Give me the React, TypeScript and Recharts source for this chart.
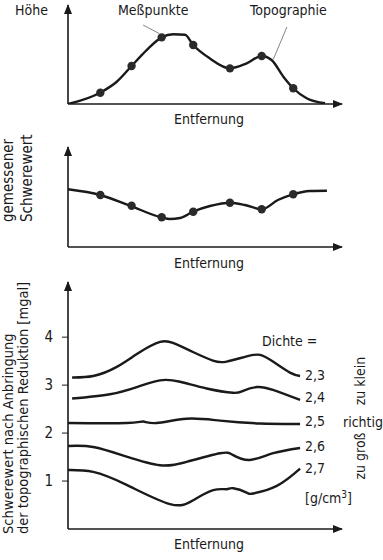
import { ComposedChart, Line, Scatter, XAxis, YAxis, ReferenceDot, ReferenceLine } from 'recharts'

// shared x positions of the measuring stations (0..100 along the profile)
const stationX = [11.8, 23.2, 34.2, 45.7, 59.1, 70.7, 82.2]

// panel 1: topography
const topoX = [0, 11.7, 17.8, 23.2, 28.7, 34.2, 38.4, 42.7, 45.7, 51.8, 59.1, 65.2, 70.7, 74.3, 78.6, 82.2, 87.1, 93.8]
const topoY = [0, 1.14, 2.25, 3.84, 5.45, 6.73, 7.04, 7.0, 5.96, 4.6, 3.6, 4.1, 4.85, 4.44, 2.76, 1.59, 0.58, 0.07]
const topoPts = [1.14, 3.84, 6.73, 5.96, 3.6, 4.85, 1.59]

// panel 2: measured gravity
const gravX = [0, 11.8, 22.6, 34, 37.2, 40.9, 45.6, 51.8, 59.5, 64.6, 70.8, 76.6, 82.1, 88.3, 94.5]
const gravY = [5.77, 5.2, 4.13, 2.97, 2.8, 2.9, 3.53, 4.1, 4.43, 4.2, 3.77, 4.7, 5.27, 5.6, 5.63]
const gravPts = [5.2, 4.13, 2.97, 3.53, 4.43, 3.77, 5.27]

// panel 3: reduced gravity for several densities [mgal]
const d23X = [1.5, 9.2, 17.8, 26.3, 33.6, 38.3, 45.6, 52.9, 57.9, 65.2, 70.1, 74.8, 81, 84.7]
const d23Y = [3.16, 3.19, 3.38, 3.69, 3.9, 3.88, 3.69, 3.51, 3.49, 3.6, 3.63, 3.49, 3.26, 3.19]
const d24X = [1.5, 15.3, 25.1, 33.6, 40.9, 50.6, 60.2, 63.9, 68.9, 74.8, 84.7]
const d24Y = [2.72, 2.81, 2.96, 3.1, 3.07, 2.93, 2.84, 2.88, 2.96, 2.9, 2.69]
const d25X = [0, 21.4, 27.5, 32.4, 43.3, 55.5, 70.1, 84.7]
const d25Y = [2.21, 2.21, 2.24, 2.21, 2.3, 2.26, 2.2, 2.19]
const d26X = [0, 9.2, 21.4, 33.6, 43.3, 55.5, 60.3, 66.4, 74.9, 84.7]
const d26Y = [1.73, 1.71, 1.51, 1.33, 1.4, 1.58, 1.54, 1.44, 1.58, 1.69]
const d27X = [0, 9.2, 21.4, 37.2, 45.7, 53, 57.9, 60.3, 65.2, 67.6, 76.2, 84.7]
const d27Y = [1.23, 1.19, 0.92, 0.52, 0.6, 0.81, 0.83, 0.85, 0.76, 0.74, 0.9, 1.26]
const densityLabels = ['2,3', '2,4', '2,5', '2,6', '2,7']
const yTicks = [1, 2, 3, 4]

const zip = (xs: number[], ys: number[]) => xs.map((x, i) => ({ x, y: ys[i] }))

const FONT = "'Liberation Sans Narrow', 'DejaVu Sans Condensed', Roboto, sans-serif"
const INK = '#1a1a1a'
const txt = { fontFamily: FONT, fontSize: 14, fill: INK }
const ylab = { fontFamily: FONT, fontSize: 15, fill: INK }
const ylab3 = { fontFamily: FONT, fontSize: 14.5, fill: INK }

const ArrowRight = (p: any) => (
  <polygon points={`${p.cx + 1},${p.cy} ${p.cx - 9},${p.cy - 4} ${p.cx - 9},${p.cy + 4}`} fill={INK} />
)
const ArrowUp = (p: any) => (
  <polygon points={`${p.cx},${p.cy - 1} ${p.cx - 4},${p.cy + 9} ${p.cx + 4},${p.cy + 9}`} fill={INK} />
)
const Dot = (p: any) => <circle cx={p.cx} cy={p.cy} r={4.2} fill="#2a2a2a" />

const axisLine = { stroke: INK, strokeWidth: 1.6 }
const curve = { stroke: INK, strokeWidth: 2.4, dot: false, type: 'monotone' as const, isAnimationActive: false }

export default function App() {
  const pts1 = zip(stationX, topoPts)
  const pts2 = zip(stationX, gravPts)
  const lines3 = [zip(d23X, d23Y), zip(d24X, d24Y), zip(d25X, d25Y), zip(d26X, d26Y), zip(d27X, d27Y)]
  const labelY = [110, 132, 156, 181, 203]

  return (
    <div style={{ position: 'absolute', left: 0, top: 0, width: 383, height: 560, background: '#fff' }}>
      {/* panel 1 */}
      <div style={{ position: 'absolute', left: 0, top: 0 }}>
        <ComposedChart width={383} height={132} margin={{ top: 5, right: 41, left: 0, bottom: 0 }}>
          <XAxis type="number" dataKey="x" domain={[0, 100]} tick={false} tickLine={false} axisLine={axisLine} height={28} allowDataOverflow />
          <YAxis type="number" dataKey="y" domain={[0, 10]} tick={false} tickLine={false} axisLine={axisLine} width={68} allowDataOverflow />
          <ReferenceLine segment={[{ x: 27.4, y: 7.98 }, { x: 33.4, y: 7.1 }]} stroke="#666" strokeWidth={0.8} ifOverflow="visible" />
          <ReferenceLine segment={[{ x: 79.9, y: 7.78 }, { x: 74.9, y: 4.5 }]} stroke="#666" strokeWidth={0.8} ifOverflow="visible" />
          <Line data={zip(topoX, topoY)} dataKey="y" {...curve} />
          <Scatter data={pts1} dataKey="y" shape={Dot} isAnimationActive={false} />
          <ReferenceDot x={100} y={0} ifOverflow="visible" shape={ArrowRight} />
          <ReferenceDot x={0} y={10} ifOverflow="visible" shape={ArrowUp} />
          <text x={15} y={15} {...txt}>Höhe</text>
          <text x={118} y={15} {...txt}>Meßpunkte</text>
          <text x={250} y={15} {...txt}>Topographie</text>
          <text x={209} y={124} textAnchor="middle" {...txt}>Entfernung</text>
        </ComposedChart>
      </div>

      {/* panel 2 */}
      <div style={{ position: 'absolute', left: 0, top: 132 }}>
        <ComposedChart width={383} height={143} margin={{ top: 15, right: 41, left: 0, bottom: 0 }}>
          <XAxis type="number" dataKey="x" domain={[0, 100]} tick={false} tickLine={false} axisLine={axisLine} height={28} allowDataOverflow />
          <YAxis type="number" dataKey="y" domain={[0, 10]} tick={false} tickLine={false} axisLine={axisLine} width={68} allowDataOverflow />
          <Line data={zip(gravX, gravY)} dataKey="y" {...curve} />
          <Scatter data={pts2} dataKey="y" shape={Dot} isAnimationActive={false} />
          <ReferenceDot x={100} y={0} ifOverflow="visible" shape={ArrowRight} />
          <ReferenceDot x={0} y={10} ifOverflow="visible" shape={ArrowUp} />
          <text transform="translate(13,90) rotate(-90)" {...ylab}>gemessener</text>
          <text transform="translate(32,90) rotate(-90)" {...ylab}>Schwerewert</text>
          <text x={209} y={136} textAnchor="middle" {...txt}>Entfernung</text>
        </ComposedChart>
      </div>

      {/* panel 3 */}
      <div style={{ position: 'absolute', left: 0, top: 270 }}>
        <ComposedChart width={383} height={290} margin={{ top: 12, right: 41, left: 0, bottom: 0 }}>
          <XAxis type="number" dataKey="x" domain={[0, 100]} tick={false} tickLine={false} axisLine={axisLine} height={31} allowDataOverflow />
          <YAxis
            type="number"
            dataKey="y"
            domain={[0, 5.15]}
            ticks={yTicks}
            tick={{ fontFamily: FONT, fontSize: 15, fill: INK }}
            tickLine={{ stroke: INK, strokeWidth: 1 }}
            tickSize={6}
            tickMargin={9}
            axisLine={axisLine}
            width={68}
            allowDataOverflow
          />
          {lines3.map((d, i) => (
            <Line key={densityLabels[i]} data={d} dataKey="y" name={densityLabels[i]} {...curve} type="natural" />
          ))}
          <ReferenceDot x={100} y={0} ifOverflow="visible" shape={ArrowRight} />
          <ReferenceDot x={0} y={5.15} ifOverflow="visible" shape={ArrowUp} />
          <text transform="translate(13,264) rotate(-90)" {...ylab3}>Schwerewert nach Anbringung</text>
          <text transform="translate(28,264) rotate(-90)" {...ylab3}>der topographischen Reduktion [mgal]</text>
          <text x={262} y={76} {...txt}>Dichte =</text>
          {densityLabels.map((l, i) => (
            <text key={l} x={305} y={labelY[i]} {...txt}>{l}</text>
          ))}
          <text x={305} y={233} {...txt}>
            [g/cm<tspan dy={-5} fontSize={10}>3</tspan>
            <tspan dy={5}>]</tspan>
          </text>
          <text transform="translate(365,111) rotate(-90)" textAnchor="middle" {...txt}>zu klein</text>
          <text x={343} y={157} {...txt}>richtig</text>
          <text transform="translate(365,186) rotate(-90)" textAnchor="middle" {...txt}>zu groß</text>
          <text x={209} y={279} textAnchor="middle" {...txt}>Entfernung</text>
        </ComposedChart>
      </div>
    </div>
  )
}
